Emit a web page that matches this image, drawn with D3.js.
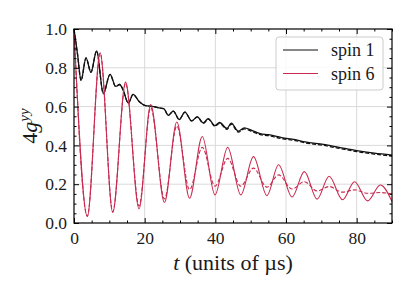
<!DOCTYPE html>
<html>
<head>
<meta charset="utf-8">
<script src="https://cdn.jsdelivr.net/npm/d3@7"></script>
<style>
  body { margin: 0; background: #fff; }
</style>
</head>
<body>
<svg id="chart" width="415" height="295"></svg>
<script>
// spin 1 (black), solid and dashed share the same time samples
var blackT = [0, 1.0, 2.0, 3.4, 4.8, 6.4, 8.3, 10.2, 11.8, 12.9, 13.8, 15.4, 16.7, 18.5, 20.2, 22.5, 24.5, 25.4, 26.7, 28.1, 29.8, 31.4, 33.3, 34.9, 36.6, 38.0, 39.9, 41.2, 43.3, 44.5, 46.5, 48.2, 50.3, 52.7, 55, 58.8, 62.6, 65.4, 70.6, 75, 80, 85, 90];
var blackSolid = [1.0, 0.87, 0.735, 0.851, 0.777, 0.887, 0.667, 0.766, 0.704, 0.714, 0.69, 0.618, 0.663, 0.625, 0.605, 0.60, 0.592, 0.59, 0.555, 0.577, 0.533, 0.572, 0.526, 0.547, 0.516, 0.538, 0.502, 0.518, 0.487, 0.515, 0.473, 0.49, 0.477, 0.461, 0.455, 0.44, 0.43, 0.418, 0.405, 0.39, 0.373, 0.36, 0.35];
var blackDashed = [1.0, 0.87, 0.735, 0.851, 0.777, 0.887, 0.667, 0.766, 0.704, 0.714, 0.69, 0.618, 0.663, 0.625, 0.605, 0.60, 0.592, 0.59, 0.555, 0.577, 0.533, 0.572, 0.526, 0.547, 0.514, 0.535, 0.499, 0.514, 0.483, 0.51, 0.468, 0.485, 0.472, 0.456, 0.45, 0.435, 0.425, 0.413, 0.4, 0.385, 0.368, 0.355, 0.345];

// spin 6 (red), extrema of the oscillation
var redT = [0, 3.77, 7.4, 10.96, 14.6, 18.4, 21.7, 25.6, 29.1, 32.7, 36.3, 39.9, 43.5, 47.2, 50.8, 54.6, 57.9, 61.7, 65.2, 68.8, 72.2, 76, 79.4, 83.1, 86.7, 90];
var redSolid = [1.0, 0.034, 0.877, 0.054, 0.726, 0.073, 0.61, 0.106, 0.521, 0.128, 0.446, 0.145, 0.39, 0.145, 0.342, 0.141, 0.30, 0.134, 0.265, 0.123, 0.241, 0.12, 0.213, 0.114, 0.196, 0.111];
var redDashed = [1.0, 0.035, 0.875, 0.058, 0.72, 0.088, 0.595, 0.124, 0.50, 0.172, 0.39, 0.19, 0.333, 0.19, 0.283, 0.185, 0.248, 0.175, 0.213, 0.165, 0.188, 0.159, 0.171, 0.153, 0.157, 0.15];

var xTicks = [0, 20, 40, 60, 80];
var yTicks = [0.0, 0.2, 0.4, 0.6, 0.8, 1.0];
var legendNames = ["spin 1", "spin 6"];

var black = "#111111";
var red = "#c82a50";
var serif = "'Liberation Serif', 'Times New Roman', 'DejaVu Serif', serif";

var svg = d3.select("#chart");
var margin = {left: 74, right: 23, top: 29, bottom: 72};
var W = 415, H = 295;

var x = d3.scaleLinear().domain([0, 90]).range([margin.left, W - margin.right]);
var y = d3.scaleLinear().domain([0, 1]).range([H - margin.bottom, margin.top]);

// grid
svg.append("g").selectAll("line").data(xTicks.slice(1)).enter().append("line")
    .attr("x1", function (d) { return x(d); }).attr("x2", function (d) { return x(d); })
    .attr("y1", y(0)).attr("y2", y(1))
    .attr("stroke", "#d9d9d9").attr("stroke-width", 1);
svg.append("g").selectAll("line").data(yTicks.slice(1, -1)).enter().append("line")
    .attr("y1", function (d) { return y(d); }).attr("y2", function (d) { return y(d); })
    .attr("x1", x(0)).attr("x2", x(90))
    .attr("stroke", "#d9d9d9").attr("stroke-width", 1);

function series(ts, vs) {
    return ts.map(function (t, i) { return [t, vs[i]]; });
}

var line = d3.line()
    .x(function (d) { return x(d[0]); })
    .y(function (d) { return y(d[1]); })
    .curve(d3.curveMonotoneX);

var plot = svg.append("g");
plot.append("path").datum(series(blackT, blackDashed)).attr("d", line)
    .attr("fill", "none").attr("stroke", black).attr("stroke-width", 1.3).attr("stroke-dasharray", "4,2");
plot.append("path").datum(series(blackT, blackSolid)).attr("d", line)
    .attr("fill", "none").attr("stroke", black).attr("stroke-width", 1.3);
plot.append("path").datum(series(redT, redDashed)).attr("d", line)
    .attr("fill", "none").attr("stroke", red).attr("stroke-width", 1.1).attr("stroke-dasharray", "4,2");
plot.append("path").datum(series(redT, redSolid)).attr("d", line)
    .attr("fill", "none").attr("stroke", red).attr("stroke-width", 1.1);

// axes with inward ticks on all sides
var xMinor = d3.range(0, 91, 5).filter(function (d) { return d % 20 !== 0; });
var yMinor = d3.range(0, 21).map(function (d) { return d * 0.05; }).filter(function (d, i) { return i % 4 !== 0; });

function styleAxis(g) {
    g.attr("font-family", null).attr("font-size", null);
    g.select(".domain").remove();
    g.selectAll("line").attr("stroke", "#000").attr("stroke-width", 1);
    g.selectAll("text").style("font-family", serif).style("font-size", "17.5px").attr("fill", "#1a1a1a");
}

svg.append("g").attr("transform", "translate(0," + y(0) + ")")
    .call(d3.axisBottom(x).tickValues(xTicks).tickSize(-5).tickPadding(9).tickFormat(d3.format("d")))
    .call(styleAxis);
svg.append("g").attr("transform", "translate(0," + y(0) + ")")
    .call(d3.axisBottom(x).tickValues(xMinor).tickSize(-2.5).tickFormat(""))
    .call(styleAxis);
svg.append("g").attr("transform", "translate(0," + y(1) + ")")
    .call(d3.axisTop(x).tickValues(xTicks).tickSize(-5).tickFormat(""))
    .call(styleAxis);
svg.append("g").attr("transform", "translate(0," + y(1) + ")")
    .call(d3.axisTop(x).tickValues(xMinor).tickSize(-2.5).tickFormat(""))
    .call(styleAxis);

svg.append("g").attr("transform", "translate(" + x(0) + ",0)")
    .call(d3.axisLeft(y).tickValues(yTicks).tickSize(-5).tickPadding(7).tickFormat(d3.format(".1f")))
    .call(styleAxis);
svg.append("g").attr("transform", "translate(" + x(0) + ",0)")
    .call(d3.axisLeft(y).tickValues(yMinor).tickSize(-2.5).tickFormat(""))
    .call(styleAxis);
svg.append("g").attr("transform", "translate(" + x(90) + ",0)")
    .call(d3.axisRight(y).tickValues(yTicks).tickSize(-5).tickFormat(""))
    .call(styleAxis);
svg.append("g").attr("transform", "translate(" + x(90) + ",0)")
    .call(d3.axisRight(y).tickValues(yMinor).tickSize(-2.5).tickFormat(""))
    .call(styleAxis);

// frame
svg.append("rect").attr("x", x(0)).attr("y", y(1))
    .attr("width", x(90) - x(0)).attr("height", y(0) - y(1))
    .attr("fill", "none").attr("stroke", "#000").attr("stroke-width", 1.2);

// axis labels
var xl = svg.append("text").attr("x", (x(0) + x(90)) / 2).attr("y", 270)
    .attr("text-anchor", "middle").style("font-family", serif).style("font-size", "22px").attr("fill", "#1a1a1a");
xl.append("tspan").attr("font-style", "italic").text("t");
xl.append("tspan").text(" (units of \u00b5s)");

var yl = svg.append("text").attr("transform", "translate(37," + ((y(0) + y(1)) / 2) + ") rotate(-90)")
    .attr("text-anchor", "middle").style("font-family", serif).style("font-size", "22px").attr("fill", "#1a1a1a");
yl.append("tspan").text("4");
yl.append("tspan").attr("font-style", "italic").text("g");
yl.append("tspan").attr("font-style", "italic").style("font-size", "15px").attr("dy", -8).text("yy");

// legend
var lg = svg.append("g");
lg.append("rect").attr("x", 276).attr("y", 37).attr("width", 107).attr("height", 53)
    .attr("rx", 3).attr("fill", "#fff").attr("fill-opacity", 0.85)
    .attr("stroke", "#cccccc").attr("stroke-width", 1);
var colors = [black, red];
legendNames.forEach(function (name, i) {
    var cy = 50 + i * 23.5;
    lg.append("line").attr("x1", 283).attr("x2", 318).attr("y1", cy).attr("y2", cy)
        .attr("stroke", colors[i]).attr("stroke-width", i === 0 ? 1.2 : 1.1);
    lg.append("text").attr("x", 331).attr("y", cy + 6)
        .style("font-family", serif).style("font-size", "18px").attr("fill", "#1a1a1a").text(name);
});
</script>
</body>
</html>
